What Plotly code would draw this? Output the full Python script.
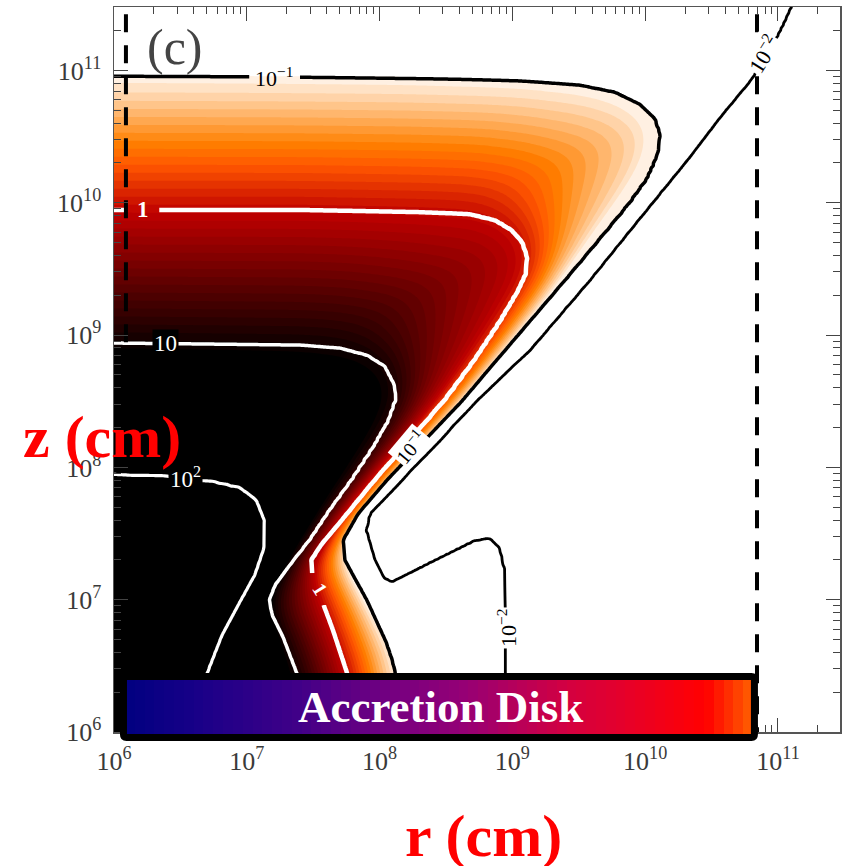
import numpy as np
import plotly.graph_objects as go

# ------------------------------------------------------------------
# Data
# Contours of the optical depth tau, traced as (log10 r [cm], log10 z [cm])
# ------------------------------------------------------------------
tau_levels = [-2, -1, 0, 1, 2]          # log10(tau) of the drawn contours

tau_m2_logr = [11.143, 11.105, 11.053, 10.977, 10.880, 10.789, 10.563, 10.337, 9.961, 9.584,
               9.133, 8.733, 8.455, 8.154, 7.928, 7.898, 7.965, 8.033, 8.093, 8.417,
               8.718, 8.831, 8.907, 8.944, 8.952, 8.952, 8.952]
tau_m2_logz = [11.608, 11.480, 11.367, 11.215, 11.049, 10.913, 10.641, 10.346, 9.885, 9.416,
               8.887, 8.509, 8.207, 7.890, 7.655, 7.527, 7.300, 7.164, 7.134, 7.300,
               7.451, 7.466, 7.391, 7.224, 6.922, 6.544, 5.902]

tau_m1_logr = [5.895, 6.000, 7.024, 8.154, 9.057, 9.509, 9.773, 9.961, 10.074, 10.119,
               10.096, 10.021, 9.886, 9.705, 9.509, 9.283, 9.057, 8.831, 8.628, 8.342,
               8.056, 7.837, 7.724, 7.739, 7.830, 7.905, 7.980, 8.048, 8.093, 8.116, 8.154]
tau_m1_logz = [10.951, 10.951, 10.947, 10.940, 10.921, 10.890, 10.837, 10.747, 10.641, 10.512,
               10.361, 10.187, 9.998, 9.779, 9.545, 9.280, 9.016, 8.751, 8.509, 8.207,
               7.905, 7.648, 7.451, 7.300, 7.134, 6.998, 6.831, 6.680, 6.544, 6.446, 5.902]

tau_0_logr = [5.895, 6.000, 7.401, 8.304, 8.681, 8.869, 8.997, 9.080, 9.117, 9.102,
              9.042, 8.907, 8.718, 8.492, 8.229, 7.965, 7.717, 7.551, 7.483, 7.491,
              7.551, 7.649, 7.755, 7.815]
tau_0_logz = [9.946, 9.946, 9.946, 9.930, 9.915, 9.870, 9.794, 9.696, 9.583, 9.454,
              9.326, 9.099, 8.812, 8.509, 8.207, 7.905, 7.602, 7.406, 7.300, 7.187,
              7.036, 6.771, 6.446, 5.902]

tau_1_logr = [5.895, 6.000, 7.401, 7.702, 7.905, 8.041, 8.116, 8.123, 8.071, 7.965,
              7.792, 7.627, 7.476, 7.325, 7.212, 7.167, 7.190, 7.273, 7.378, 7.514]
tau_1_logz = [8.940, 8.940, 8.925, 8.903, 8.850, 8.766, 8.623, 8.509, 8.358, 8.169,
              7.905, 7.678, 7.451, 7.262, 7.111, 6.998, 6.884, 6.718, 6.446, 5.902]

tau_2_logr = [5.895, 6.000, 6.346, 6.745, 6.949, 7.069, 7.130, 7.130, 7.062, 6.949,
              6.813, 6.738, 6.700, 6.648]
tau_2_logz = [7.943, 7.943, 7.935, 7.890, 7.844, 7.754, 7.602, 7.391, 7.187, 6.983,
              6.733, 6.544, 6.446, 5.902]

# contour labels: text, log10 r, log10 z, colour, background (None = gap in line), angle, size
contour_labels = [
    ("10<sup>−1</sup>", 7.205, 10.951, "black", None, 0, 22),
    ("<b>1</b>", 6.218, 9.946, "white", None, 0, 23),
    ("10", 6.39, 8.940, "white", "black", 0, 23),
    ("10<sup>2</sup>", 6.542, 7.927, "white", "black", 0, 23),
    ("10<sup>−1</sup>", 8.229, 8.154, "black", "white", -50, 20),
    ("<b>1</b>", 7.551, 7.080, "white", None, 58, 20),
    ("10<sup>−2</sup>", 8.959, 6.786, "black", "white", -90, 22),
    ("10<sup>−2</sup>", 10.887, 11.125, "black", "white", -58, 22),
]
# gaps left in the lines under labels without a background (log10 r or log10 z intervals)
gap_m1_logr = [7.03, 7.38]
gap_0_logr = [6.10, 6.33]
gap_0_logz = [6.975, 7.19]

dashed_r = [1.23e6, 6.95e10]             # vertical dashed lines [cm]
disk_logr = [6.045, 10.849]              # accretion-disk bar extent (log10 r)
disk_logz = [5.932, 6.446]               # accretion-disk bar extent (log10 z)
disk_stops = [0.0, 0.114, 0.274, 0.435, 0.547, 0.628, 0.708, 0.788, 0.900, 0.925, 1.0]
disk_colors = ["#000080", "#180088", "#400088", "#780080", "#980074", "#b80058",
               "#d40040", "#e4002c", "#fc0008", "#ff0000", "#ff6000"]

major_ticks = [6, 7, 8, 9, 10, 11]
tick_text = ["10<sup>6</sup>", "10<sup>7</sup>", "10<sup>8</sup>", "10<sup>9</sup>",
             "10<sup>10</sup>", "10<sup>11</sup>"]
x_range = [6.0, 11.467]
y_range = [6.0, 11.48]

# ------------------------------------------------------------------
# Build a log10(tau) grid whose level sets are the traced contours
# ------------------------------------------------------------------
curves = [(tau_m2_logr, tau_m2_logz), (tau_m1_logr, tau_m1_logz), (tau_0_logr, tau_0_logz),
          (tau_1_logr, tau_1_logz), (tau_2_logr, tau_2_logz)]

gx = np.arange(5.96, 11.53, 0.02)
gy = np.arange(5.96, 11.53, 0.02)
GX, GY = np.meshgrid(gx, gy)
P = GX.ravel()
Q = GY.ravel()


def polyline_distance(cx, cy):
    d = np.full(P.shape, np.inf)
    for i in range(len(cx) - 1):
        x1, y1, x2, y2 = cx[i], cy[i], cx[i + 1], cy[i + 1]
        dx, dy = x2 - x1, y2 - y1
        L2 = dx * dx + dy * dy
        t = np.clip(((P - x1) * dx + (Q - y1) * dy) / L2, 0.0, 1.0)
        d = np.minimum(d, np.hypot(P - (x1 + t * dx), Q - (y1 + t * dy)))
    return d


def inside_polygon(vx, vy):
    ins = np.zeros(P.shape, dtype=bool)
    n = len(vx)
    j = n - 1
    with np.errstate(divide="ignore", invalid="ignore"):
        for i in range(n):
            xi, yi, xj, yj = vx[i], vy[i], vx[j], vy[j]
            cond = (yi > Q) != (yj > Q)
            if yj != yi:
                xint = (xj - xi) * (Q - yi) / (yj - yi) + xi
                ins ^= cond & (P < xint)
            j = i
    return ins


dists, insides = [], []
for k, (cx, cy) in enumerate(curves):
    cx, cy = list(cx), list(cy)
    dists.append(polyline_distance(cx, cy))
    if k == 0:
        vx = cx + [cx[-1], 5.0, 5.0, cx[0]]
        vy = cy + [5.0, 5.0, 12.5, 12.5]
    else:
        vx = cx + [cx[-1], 5.0, 5.0]
        vy = cy + [5.0, 5.0, cy[0]]
    insides.append(inside_polygon(vx, vy))

D = np.stack(dists)
m = np.sum(np.stack(insides), axis=0)
Lv = np.array(tau_levels, dtype=float)
val = np.empty(P.shape)
s = m == 0
val[s] = Lv[0] - D[0, s] / 0.3
s = m == len(Lv)
val[s] = Lv[-1] + D[-1, s] / 0.3
for j in range(1, len(Lv)):
    s = m == j
    dlo, dhi = D[j - 1, s], D[j, s]
    val[s] = Lv[j - 1] + (Lv[j] - Lv[j - 1]) * dlo / (dlo + dhi + 1e-12)
log_tau = val.reshape(GY.shape)


def gauss_blur(a, sig):
    r = int(3 * sig)
    k = np.exp(-0.5 * (np.arange(-r, r + 1) / sig) ** 2)
    k /= k.sum()
    ap = np.pad(a, ((r, r), (0, 0)), mode="edge")
    a = sum(k[i] * ap[i:i + a.shape[0], :] for i in range(2 * r + 1))
    ap = np.pad(a, ((0, 0), (r, r)), mode="edge")
    return sum(k[i] * ap[:, i:i + a.shape[1]] for i in range(2 * r + 1))


# smoother colour field inside the tau = 0.1 surface (edge kept exact)
fill_tau = np.where(log_tau >= -1.0, np.maximum(gauss_blur(np.clip(log_tau, -1.6, 1.6), 5.0), -0.995), log_tau)
fill_tau = fill_tau.astype(np.float32)
line_tau = log_tau.astype(np.float32)

# ------------------------------------------------------------------
# Figure
# ------------------------------------------------------------------
W, H = 846, 866
ml, mr, mt, mb = 114, 6, 7, 100
pw, ph = W - ml - mr, H - mt - mb
ydom0 = (H - mb - 732) / ph

heat = [[0.0, "#ffffff"], [0.25, "#ff8000"], [1 / 3, "#ff5500"], [0.5, "#bf0000"], [1.0, "#000000"]]

fig = go.Figure()
fig.add_trace(go.Contour(
    x=gx, y=gy, z=fill_tau, colorscale=heat, showscale=False, hoverinfo="skip",
    contours=dict(start=-1.0, end=1.04, size=0.06, coloring="fill", showlines=False),
    line=dict(width=0, smoothing=1.0)))


def line_trace(level, color, width, xsel=None, ysel=None):
    xs = np.ones(gx.shape, bool) if xsel is None else xsel
    ys = np.ones(gy.shape, bool) if ysel is None else ysel
    return go.Contour(
        x=gx[xs], y=gy[ys], z=line_tau[np.ix_(ys, xs)], showscale=False, hoverinfo="skip",
        contours=dict(start=level, end=level, size=1, coloring="none"),
        line=dict(color=color, width=width, smoothing=1.0))


fig.add_trace(line_trace(-2, "black", 2.8))
fig.add_trace(line_trace(-1, "black", 3.5, xsel=gx <= gap_m1_logr[0]))
fig.add_trace(line_trace(-1, "black", 3.5, xsel=gx >= gap_m1_logr[1]))
fig.add_trace(line_trace(0, "white", 4.5, xsel=gx <= gap_0_logr[0]))
fig.add_trace(line_trace(0, "white", 4.5, xsel=gx >= gap_0_logr[1], ysel=gy >= gap_0_logz[1]))
fig.add_trace(line_trace(0, "white", 4.5, xsel=gx >= gap_0_logr[1], ysel=gy <= gap_0_logz[0]))
fig.add_trace(line_trace(1, "white", 3.5))
fig.add_trace(line_trace(2, "white", 3.2))

for r in dashed_r:
    fig.add_trace(go.Scatter(x=[np.log10(r)] * 2, y=[5.9, 11.6], mode="lines", hoverinfo="skip",
                             line=dict(color="black", width=4, dash="18px,13px")))

# accretion disk bar
def px_x(lr):
    return (lr - x_range[0]) / (x_range[1] - x_range[0])


def px_y(lz):
    return ydom0 + (lz - y_range[0]) / (y_range[1] - y_range[0]) * (1 - ydom0)


bx0, bx1 = px_x(disk_logr[0]), px_x(disk_logr[1])
by0, by1 = px_y(disk_logz[0]), px_y(disk_logz[1])
bw = 7
ins_x, ins_y = (bw / 2) / pw, (bw / 2) / ph
hx, hy = 5 / pw, 5 / ph
N = 64
cells = np.linspace(0.5 / N, 1 - 0.5 / N, N)
fig.add_trace(go.Heatmap(
    x=cells, y=[0.5], z=[cells], zmin=0, zmax=1, xaxis="x2", yaxis="y2", showscale=False, hoverinfo="skip",
    colorscale=[[s_, c_] for s_, c_ in zip(disk_stops, disk_colors)]))

cx0, cx1, cy0, cy1 = bx0 + ins_x, bx1 - ins_x, by0 + ins_y, by1 - ins_y
rx, ry = 3 / pw, 3 / ph
path = (f"M {cx0+rx},{cy0} L {cx1-rx},{cy0} Q {cx1},{cy0} {cx1},{cy0+ry} "
        f"L {cx1},{cy1-ry} Q {cx1},{cy1} {cx1-rx},{cy1} L {cx0+rx},{cy1} Q {cx0},{cy1} {cx0},{cy1-ry} "
        f"L {cx0},{cy0+ry} Q {cx0},{cy0} {cx0+rx},{cy0} Z")

minor_vals = [n + np.log10(k) for n in range(5, 12) for k in range(2, 10)]
minor_vals = [round(float(v), 5) for v in minor_vals if 6.0 < v < 11.5]

axis_common = dict(
    tickmode="array", tickvals=major_ticks, ticktext=tick_text,
    ticks="inside", ticklen=14, tickwidth=1, tickcolor="#444",
    showline=True, linewidth=1.5, linecolor="#555", mirror="allticks",
    showgrid=False, zeroline=False, automargin=False, layer="above traces",
    tickfont=dict(family="Liberation Serif", size=26, color="#3a3a3a"),
    minor=dict(tickmode="array", tickvals=minor_vals, ticks="inside", ticklen=7,
               tickwidth=1, tickcolor="#444", showgrid=False),
)

annotations = []
for text, lr, lz, col, bg, ang, size in contour_labels:
    annotations.append(dict(x=lr, y=lz, xref="x", yref="y", text=text, showarrow=False,
                            font=dict(family="Liberation Serif", size=size, color=col),
                            bgcolor=bg if bg else "rgba(0,0,0,0)", borderpad=1, textangle=ang,
                            xanchor="center", yanchor="middle"))
annotations += [
    dict(x=(175 - ml) / pw, y=(H - mb - 47) / ph, xref="paper", yref="paper", text="(c)",
         showarrow=False, font=dict(family="Liberation Serif", size=50, color="#444"),
         xanchor="center", yanchor="middle"),
    dict(x=(102 - ml) / pw, y=(H - mb - 437) / ph, xref="paper", yref="paper", text="<b>z (cm)</b>",
         showarrow=False, font=dict(family="Liberation Serif", size=60, color="#ff0000"),
         xanchor="center", yanchor="middle"),
    dict(x=(483 - ml) / pw, y=(H - mb - 836) / ph, xref="paper", yref="paper", text="<b>r (cm)</b>",
         showarrow=False, font=dict(family="Liberation Serif", size=60, color="#ff0000"),
         xanchor="center", yanchor="middle"),
    dict(x=(440 - ml) / pw, y=(H - mb - 707) / ph, xref="paper", yref="paper", text="<b>Accretion Disk</b>",
         showarrow=False, font=dict(family="Liberation Serif", size=45, color="white"),
         xanchor="center", yanchor="middle"),
]

fig.update_layout(
    template="none",
    width=W, height=H, margin=dict(l=ml, r=mr, t=mt, b=mb, pad=0, autoexpand=False),
    paper_bgcolor="white", plot_bgcolor="white", showlegend=False,
    xaxis=dict(range=x_range, domain=[0, 1], anchor="y", ticklabelstandoff=5, **axis_common),
    yaxis=dict(range=y_range, domain=[ydom0, 1], anchor="x", ticklabelstandoff=6, **axis_common),
    xaxis2=dict(domain=[bx0 + hx, bx1 - hx], range=[0, 1], visible=False, anchor="y2"),
    yaxis2=dict(domain=[by0 + hy, by1 - hy], range=[0, 1], visible=False, anchor="x2"),
    shapes=[dict(type="path", path=path, xref="paper", yref="paper",
                 line=dict(color="black", width=bw), fillcolor="rgba(0,0,0,0)", layer="above")],
    annotations=annotations,
)

fig.write_html(
    "out.html",
    config={"displayModeBar": False, "staticPlot": True},
    post_script="document.body.style.margin='0';document.body.style.overflow='hidden';",
)
